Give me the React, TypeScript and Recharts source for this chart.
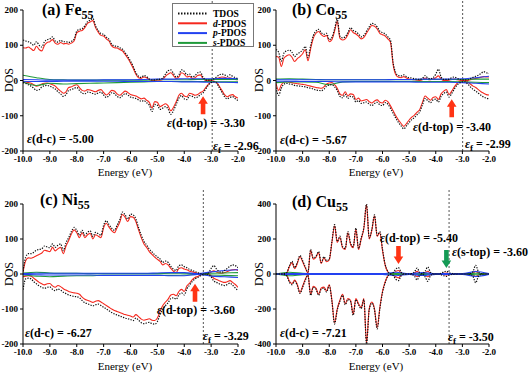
import React from 'react';
import { LineChart, Line, XAxis, YAxis, ReferenceLine, ReferenceDot } from 'recharts';

// energy grid (eV)
const energy = [
  -10.0, -9.9, -9.8, -9.7, -9.6, -9.5, -9.4, -9.3, -9.2, -9.1,
  -9.0, -8.9, -8.8, -8.7, -8.6, -8.5, -8.4, -8.3, -8.2, -8.1,
  -8.0, -7.9, -7.8, -7.7, -7.6, -7.5, -7.4, -7.3, -7.2, -7.1,
  -7.0, -6.9, -6.8, -6.7, -6.6, -6.5, -6.4, -6.3, -6.2, -6.1,
  -6.0, -5.9, -5.8, -5.7, -5.6, -5.5, -5.4, -5.3, -5.2, -5.1,
  -5.0, -4.9, -4.8, -4.7, -4.6, -4.5, -4.4, -4.3, -4.2, -4.1,
  -4.0, -3.9, -3.8, -3.7, -3.6, -3.5, -3.4, -3.3, -3.2, -3.1,
  -3.0, -2.9, -2.8, -2.7, -2.6, -2.5, -2.4, -2.3, -2.2, -2.1,
  -2.0,
];
const energyCoarse = [-10, -9.5, -9, -8.5, -8, -7.5, -7, -6.5, -6, -5.5, -5, -4.5, -4, -3.5, -3, -2.5, -2];

const xTicks = [-10, -9, -8, -7, -6, -5, -4, -3, -2];
const yTicks200 = [-200, -100, 0, 100, 200];
const yTicks400 = [-400, -200, 0, 200, 400];

const panelLetters = ['(a)', '(b)', '(c)', '(d)'];
const panelElements = ['Fe', 'Co', 'Ni', 'Cu'];
const efValues = [-2.96, -2.99, -3.29, -3.5];
const dTopValues = [-3.3, -3.4, -3.6, -5.4];
const dCenterValues = [-5.0, -5.67, -6.27, -7.21];
const sTopCu = -3.6;
const arrowTips = [-45, -53, -28, 57];
const sTopArrowTip = 34;
const legendLabels = ['TDOS', 'd-PDOS', 'p-PDOS', 's-PDOS'];

// ---- Fe55 ----
const feTUp = [
  115, 112, 110, 106, 100, 110, 100, 95, 110, 116,
  118, 124, 112, 109, 114, 110, 110, 108, 111, 117,
  140, 145, 147, 155, 167, 171, 176, 155, 142, 133,
  131, 123, 117, 103, 98, 97, 93, 89, 79, 68,
  55, 40, 22, 12, 9, 14, 11, 4, 2, 2,
  3, 4, 7, 18, 28, 30, 20, 10, 16, 30,
  26, 16, 18, 10, 14, 22, 24, 9, 2, 1,
  1, 5, 10, 16, 18, 16, 12, 16, 12, 8,
  6,
];
const feDUp = [
  93, 92, 95, 90, 85, 97, 88, 84, 100, 108,
  110, 116, 106, 103, 108, 104, 105, 103, 106, 112,
  135, 140, 142, 150, 162, 166, 170, 150, 137, 128,
  126, 118, 112, 98, 93, 92, 88, 84, 74, 63,
  50, 35, 18, 8, 6, 10, 8, 2, 0, 0,
  1, 1, 3, 12, 18, 22, 14, 6, 10, 22,
  18, 10, 12, 6, 8, 14, 16, 5, 0, 0,
  0, 2, 5, 8, 10, 9, 6, 8, 5, 3,
  2,
];
const feDDn = [
  -2, -4, -6, -8, -12, -16, -14, -10, -8, -7,
  -9, -12, -16, -24, -30, -36, -32, -20, -18, -14,
  -12, -20, -28, -30, -26, -27, -30, -32, -28, -26,
  -34, -41, -36, -28, -30, -38, -42, -36, -30, -34,
  -40, -42, -44, -48, -52, -50, -56, -62, -78, -60,
  -62, -74, -70, -66, -72, -86, -76, -60, -42, -36,
  -44, -46, -36, -38, -42, -40, -34, -30, -20, -10,
  -4, -2, -4, -16, -28, -40, -46, -42, -40, -46,
  -50,
];
const feTDn = [
  -6, -8, -12, -16, -22, -28, -26, -18, -15, -14,
  -16, -20, -24, -32, -38, -45, -40, -28, -26, -22,
  -20, -28, -36, -38, -33, -34, -37, -39, -35, -33,
  -41, -48, -43, -35, -37, -45, -49, -43, -37, -41,
  -47, -49, -51, -55, -59, -57, -63, -70, -88, -68,
  -70, -82, -78, -74, -81, -96, -85, -68, -50, -43,
  -52, -54, -43, -45, -49, -47, -40, -35, -24, -13,
  -6, -4, -7, -20, -33, -46, -52, -48, -46, -52,
  -57,
];
const feSUp = [15, 8, 3, 2, 1, 1, 1, 1, 1, 1, 2, 2, 2, 3, 3, 3, 3];
const feSDn = [-4, -14, -8, -10, -9, -8, -7, -6, -5, -4, -3, -3, -3, -3, -3, -4, -4];
const fePUp = [3, 2, 1, 1, 1, 1, 2, 2, 2, 3, 4, 4, 5, 5, 5, 6, 5];
const fePDn = [-2, -3, -3, -2, -2, -2, -2, -2, -3, -3, -3, -3, -4, -4, -5, -5, -6];

// ---- Co55 ----
const coTUp = [
  88, 80, 55, 78, 84, 86, 80, 68, 75, 80,
  86, 97, 65, 98, 127, 140, 145, 136, 131, 134,
  116, 122, 146, 174, 126, 121, 124, 136, 150, 142,
  138, 132, 124, 128, 140, 152, 162, 160, 152, 140,
  136, 132, 124, 114, 50, 22, 14, 13, 16, 11,
  8, 7, 5, 4, 3, 6, 14, 7, 5, 8,
  18, 32, 10, 3, 3, 4, 8, 10, 6, 3,
  2, 2, 2, 5, 9, 12, 15, 20, 25, 22,
  20,
];
const coDUp = [
  68, 66, 40, 64, 70, 73, 66, 54, 62, 68,
  76, 88, 56, 90, 120, 134, 139, 130, 125, 128,
  110, 116, 140, 168, 120, 115, 118, 130, 144, 136,
  132, 126, 118, 122, 134, 146, 156, 154, 146, 134,
  130, 126, 118, 108, 45, 16, 9, 8, 11, 7,
  4, 3, 2, 1, 0, 2, 7, 3, 2, 4,
  8, 13, 4, 0, 0, 1, 3, 4, 2, 1,
  0, 0, 0, 2, 4, 6, 7, 9, 11, 10,
  10,
];
const coDDn = [
  -8, -28, -12, -4, -3, -5, -6, -8, -9, -10,
  -11, -12, -14, -16, -18, -20, -21, -22, -18, -10,
  -7, -6, -12, -22, -38, -42, -32, -44, -38, -40,
  -54, -50, -58, -56, -54, -60, -64, -58, -55, -62,
  -64, -56, -60, -72, -86, -100, -112, -122, -130, -122,
  -112, -104, -98, -90, -82, -62, -44, -50, -56, -48,
  -46, -54, -38, -30, -26, -40, -30, -18, -8, -3,
  -1, 0, -4, -10, -16, -20, -26, -32, -36, -40,
  -41,
];
const coTDn = [
  -20, -42, -22, -10, -8, -10, -11, -14, -15, -16,
  -17, -18, -20, -22, -24, -27, -28, -29, -25, -16,
  -13, -12, -18, -28, -45, -49, -39, -51, -45, -47,
  -61, -57, -65, -63, -61, -67, -71, -65, -62, -69,
  -71, -63, -67, -79, -93, -107, -119, -129, -137, -129,
  -119, -111, -105, -97, -89, -69, -51, -57, -63, -55,
  -53, -61, -45, -37, -33, -47, -37, -24, -13, -7,
  -4, -3, -10, -18, -25, -30, -36, -42, -47, -50,
  -52,
];
const coSUp = [4, 5, 4, 3, 2, 2, 2, 2, 2, 2, 2, 3, 3, 3, 3, 4, 4];
const coSDn = [-6, -4, -4, -5, -12, -4, -3, -3, -3, -3, -3, -3, -3, -3, -4, -5, -6];
const coPUp = [2, 2, 2, 2, 2, 2, 2, 2, 2, 3, 3, 4, 4, 4, 5, 8, 12];
const coPDn = [-2, -2, -3, -3, -3, -4, -4, -4, -4, -4, -4, -5, -5, -5, -6, -8, -10];

// ---- Ni55 ----
const niTUp = [
  8, 48, 58, 58, 62, 68, 70, 72, 80, 77,
  75, 86, 76, 82, 86, 67, 89, 104, 121, 133,
  125, 111, 125, 111, 119, 123, 107, 119, 115, 111,
  139, 152, 141, 131, 125, 139, 155, 177, 169, 157,
  171, 169, 157, 133, 111, 93, 83, 71, 63, 55,
  49, 43, 33, 37, 33, 22, 14, 10, 24, 26,
  21, 18, 13, 10, 7, 4, 1, 0, 0, 3,
  16, 24, 14, 7, 5, 10, 16, 22, 26, 24,
  18,
];
const niDUp = [
  5, 38, 46, 45, 48, 52, 56, 60, 68, 66,
  64, 76, 66, 72, 76, 58, 80, 96, 114, 126,
  118, 104, 118, 104, 112, 116, 100, 112, 108, 104,
  132, 145, 134, 124, 118, 132, 148, 170, 162, 150,
  164, 162, 150, 126, 104, 86, 76, 64, 56, 48,
  42, 36, 26, 30, 26, 16, 8, 4, 16, 18,
  14, 12, 8, 6, 4, 2, 0, 0, 0, 1,
  6, 9, 6, 3, 2, 4, 7, 10, 12, 13,
  10,
];
const niDDn = [
  -8, -6, -5, -6, -12, -18, -24, -28, -31, -28,
  -27, -34, -38, -33, -36, -42, -46, -50, -52, -54,
  -55, -58, -66, -72, -75, -78, -81, -78, -76, -80,
  -85, -90, -95, -100, -104, -107, -110, -113, -116, -118,
  -120, -123, -116, -122, -129, -132, -130, -128, -132, -133,
  -126, -106, -90, -80, -72, -60, -58, -62, -50, -44,
  -50, -34, -26, -16, -10, -7, -3, 0, 0, 0,
  -4, -12, -16, -19, -22, -24, -22, -19, -24, -30,
  -38,
];
const niTDn = [
  -45, -14, -12, -14, -22, -28, -34, -38, -41, -38,
  -37, -44, -48, -43, -46, -52, -56, -60, -62, -64,
  -65, -68, -76, -82, -85, -88, -91, -88, -86, -90,
  -95, -100, -105, -110, -114, -117, -120, -123, -126, -128,
  -130, -133, -126, -132, -139, -142, -140, -138, -142, -143,
  -136, -116, -100, -90, -82, -70, -68, -72, -60, -54,
  -60, -42, -32, -21, -14, -10, -5, -1, 0, -1,
  -8, -20, -24, -28, -31, -33, -30, -26, -32, -40,
  -48,
];
const niSUp = [3, 5, 3, 2, 2, 1, 1, 1, 1, 1, 1, 2, 2, 1, 2, 3, 4];
const niSDn = [-3, -6, -8, -6, -5, -5, -4, -4, -4, -4, -4, -4, -3, -1, -3, -4, -5];
const niPUp = [1, 2, 2, 2, 2, 2, 2, 2, 2, 2, 3, 4, 4, 1, 6, 10, 12];
const niPDn = [-1, -2, -3, -3, -3, -3, -4, -4, -4, -4, -4, -5, -5, -1, -6, -8, -10];

// ---- Cu55 ----
const cuTUp = [
  0, 0, 0, 2, 8, 46, 72, 36, 66, 106,
  76, 40, 10, 141, 91, 101, 128, 66, 99, 76,
  86, 186, 282, 186, 216, 156, 146, 242, 176, 156,
  262, 146, 206, 266, 400, 206, 256, 338, 221, 242,
  141, 55, 15, 2, 8, 28, 36, 10, 1, 0,
  0, 2, 12, 34, 8, 2, 16, 40, 10, 1,
  0, 0, 4, 12, 16, 8, 4, 1, 0, 0,
  0, 0, 0, 2, 14, 50, 14, 2, 0, 0,
  0,
];
const cuDUp = [
  0, 0, 0, 0, 4, 40, 65, 30, 60, 100,
  70, 35, 6, 135, 85, 95, 122, 60, 93, 70,
  80, 180, 274, 180, 210, 150, 140, 236, 170, 150,
  255, 140, 200, 260, 395, 200, 250, 331, 215, 236,
  135, 50, 12, 0, 4, 15, 20, 5, 0, 0,
  0, 0, 5, 15, 3, 0, 6, 16, 4, 0,
  0, 0, 1, 4, 6, 3, 1, 0, 0, 0,
  0, 0, 0, 0, 5, 15, 5, 0, 0, 0,
  0,
];
const cuDDn = [
  0, 0, 0, 0, -6, -40, -55, -35, -60, -105,
  -70, -30, -4, -116, -70, -80, -116, -80, -75, -97,
  -60, -150, -278, -200, -150, -116, -170, -140, -150, -230,
  -140, -170, -192, -140, -392, -200, -160, -200, -307, -192,
  -100, -45, -10, 0, -4, -16, -22, -6, 0, 0,
  0, 0, -5, -15, -3, 0, -6, -16, -4, 0,
  0, 0, -1, -3, -5, -2, -1, 0, 0, 0,
  0, 0, 0, 0, -5, -15, -5, 0, 0, 0,
  0,
];
const cuTDn = [
  0, 0, 0, -2, -10, -46, -61, -41, -66, -111,
  -76, -36, -8, -122, -76, -86, -122, -86, -81, -103,
  -66, -156, -286, -206, -156, -122, -176, -146, -156, -236,
  -146, -176, -198, -146, -400, -206, -166, -206, -314, -198,
  -106, -50, -13, -2, -8, -30, -38, -10, -1, 0,
  0, -2, -12, -34, -8, -2, -16, -42, -10, -1,
  0, 0, -4, -10, -14, -6, -3, -1, 0, 0,
  0, 0, 0, -2, -14, -50, -14, -2, 0, 0,
  0,
];
const cuSUp = [0, 10, 4, 1, 1, 1, 1, 1, 1, 2, 0, 2, 0, 3, 0, 4, 0];
const cuSDn = [0, -10, -4, -1, -1, -1, -1, -1, -1, -2, 0, -2, 0, -3, 0, -4, 0];
const cuPUp = [0, 3, 3, 3, 2, 2, 2, 2, 2, 10, 2, 8, 2, 3, 2, 14, 2];
const cuPDn = [0, -3, -3, -3, -2, -2, -2, -2, -2, -10, -2, -8, -2, -3, -2, -14, -2];

const RED = '#f5281e';
const BLUE = '#2341f0';
const GREEN = '#1f9a3a';
const FONT = 'Liberation Serif';

const pts = (xs: number[], ys: number[]) => xs.map((x, i) => ({ x, y: ys[i] }));

const tickStyle = { fontFamily: FONT, fontSize: 9, fontWeight: 700, fill: '#000' };

type Arrow = { x: number; y: number; dir: 'up' | 'down'; color: string };

const arrowShape = (dir: 'up' | 'down', color: string) => (p: any) => {
  const { cx, cy } = p;
  const s = dir === 'up' ? 1 : -1;
  const d = `M${cx},${cy} L${cx + 4.8},${cy + s * 7.5} L${cx + 2.3},${cy + s * 7.5} L${cx + 2.3},${cy + s * 18} L${cx - 2.3},${cy + s * 18} L${cx - 2.3},${cy + s * 7.5} L${cx - 4.8},${cy + s * 7.5} Z`;
  return <path d={d} fill={color} stroke="none" />;
};

function Panel(props: {
  left: number; top: number; width: number; height: number;
  margin: { top: number; right: number; bottom: number; left: number };
  yWidth: number; xHeight: number; domain: [number, number]; ticks: number[];
  tUp: number[]; tDn: number[]; dUp: number[]; dDn: number[];
  sUp: number[]; sDn: number[]; pUp: number[]; pDn: number[];
  ef: number; efTop: number; arrows: Arrow[];
}) {
  const p = props;
  const solid = (ys: number[], xs: number[], color: string, key: string) => (
    <Line key={key} data={pts(xs, ys)} dataKey="y" type="monotone" stroke={color} strokeWidth={1.1}
      dot={false} activeDot={false} isAnimationActive={false} />
  );
  return (
    <div style={{ position: 'absolute', left: p.left, top: p.top }}>
      <LineChart width={p.width} height={p.height} margin={p.margin}>
        <XAxis type="number" dataKey="x" domain={[-10, -2]} ticks={xTicks} allowDataOverflow interval={0}
          tickFormatter={(v: number) => v.toFixed(1)} tick={tickStyle} tickSize={3} tickMargin={2}
          height={p.xHeight} stroke="#000" />
        <YAxis type="number" domain={p.domain} ticks={p.ticks} allowDataOverflow interval={0}
          width={p.yWidth} tick={tickStyle} tickSize={3} tickMargin={2} stroke="#000" />
        <ReferenceLine segment={[{ x: p.ef, y: p.domain[0] }, { x: p.ef, y: p.efTop }]} ifOverflow="visible"
          stroke="#555" strokeDasharray="2 2" strokeWidth={1} />
        {solid(p.dUp, energy, RED, 'du')}
        {solid(p.dDn, energy, RED, 'dd')}
        {solid(p.sUp, energyCoarse, GREEN, 'su')}
        {solid(p.sDn, energyCoarse, GREEN, 'sd')}
        {solid(p.pUp, energyCoarse, BLUE, 'pu')}
        {solid(p.pDn, energyCoarse, BLUE, 'pd')}
        <Line data={pts(energy, p.tUp)} dataKey="y" type="monotone" stroke="#111" strokeWidth={1.2}
          strokeDasharray="1.3 1.3" dot={false} activeDot={false} isAnimationActive={false} />
        <Line data={pts(energy, p.tDn)} dataKey="y" type="monotone" stroke="#111" strokeWidth={1.2}
          strokeDasharray="1.3 1.3" dot={false} activeDot={false} isAnimationActive={false} />
        {p.arrows.map((a, i) => (
          <ReferenceDot key={i} x={a.x} y={a.y} ifOverflow="visible" shape={arrowShape(a.dir, a.color)} />
        ))}
      </LineChart>
    </div>
  );
}

const Eps = ({ x, y, label, value }: { x: number; y: number; label: string; value: number }) => (
  <text x={x} y={y} fontSize={12} fontWeight={700}>
    <tspan fontStyle="italic">ε</tspan>
    <tspan>({label}) = {value.toFixed(2)}</tspan>
  </text>
);

const Ef = ({ x, y, value }: { x: number; y: number; value: number }) => (
  <text x={x} y={y} fontSize={12} fontWeight={700}>
    <tspan fontStyle="italic">ε</tspan>
    <tspan fontSize={9} dy={3}>f</tspan>
    <tspan dy={-3}> = {value.toFixed(2)}</tspan>
  </text>
);

const Title = ({ x, y, i }: { x: number; y: number; i: number }) => (
  <text x={x} y={y} fontSize={16} fontWeight={700}>
    {panelLetters[i]} {panelElements[i]}
    <tspan fontSize={12} dy={4}>55</tspan>
  </text>
);

export default function App() {
  const legendColors = ['#111', RED, BLUE, GREEN];
  return (
    <div style={{ position: 'absolute', left: 0, top: 0, width: 530, height: 375, background: '#fff', overflow: 'hidden' }}>
      <Panel left={0} top={0} width={265} height={185} margin={{ top: 10, right: 27, bottom: 0, left: 0 }}
        yWidth={23} xHeight={34} domain={[-200, 200]} ticks={yTicks200}
        tUp={feTUp} tDn={feTDn} dUp={feDUp} dDn={feDDn} sUp={feSUp} sDn={feSDn} pUp={fePUp} pDn={fePDn}
        ef={efValues[0]} efTop={260} arrows={[{ x: dTopValues[0], y: arrowTips[0], dir: 'up', color: '#ff3414' }]} />
      <Panel left={245} top={0} width={285} height={185} margin={{ top: 10, right: 41, bottom: 0, left: 0 }}
        yWidth={31} xHeight={34} domain={[-200, 200]} ticks={yTicks200}
        tUp={coTUp} tDn={coTDn} dUp={coDUp} dDn={coDDn} sUp={coSUp} sDn={coSDn} pUp={coPUp} pDn={coPDn}
        ef={efValues[1]} efTop={260} arrows={[{ x: dTopValues[1], y: arrowTips[1], dir: 'up', color: '#ff3414' }]} />
      <Panel left={0} top={185} width={265} height={190} margin={{ top: 19, right: 27, bottom: 0, left: 0 }}
        yWidth={23} xHeight={31} domain={[-200, 200]} ticks={yTicks200}
        tUp={niTUp} tDn={niTDn} dUp={niDUp} dDn={niDDn} sUp={niSUp} sDn={niSDn} pUp={niPUp} pDn={niPDn}
        ef={efValues[2]} efTop={240} arrows={[{ x: dTopValues[2], y: arrowTips[2], dir: 'up', color: '#ff3414' }]} />
      <Panel left={245} top={185} width={285} height={190} margin={{ top: 19, right: 41, bottom: 0, left: 0 }}
        yWidth={31} xHeight={31} domain={[-400, 400]} ticks={yTicks400}
        tUp={cuTUp} tDn={cuTDn} dUp={cuDUp} dDn={cuDDn} sUp={cuSUp} sDn={cuSDn} pUp={cuPUp} pDn={cuPDn}
        ef={efValues[3]} efTop={480}
        arrows={[
          { x: dTopValues[3], y: arrowTips[3], dir: 'down', color: '#ff3414' },
          { x: sTopCu, y: sTopArrowTip, dir: 'down', color: '#149a55' },
        ]} />

      <svg width={530} height={375} style={{ position: 'absolute', left: 0, top: 0, pointerEvents: 'none' }}
        fontFamily={FONT} fill="#000">
        <Title x={42} y={15} i={0} />
        <Title x={292} y={15} i={1} />
        <Title x={40} y={205} i={2} />
        <Title x={292} y={207} i={3} />

        <Eps x={167} y={127} label="d-top" value={dTopValues[0]} />
        <Eps x={27} y={143} label="d-c" value={dCenterValues[0]} />
        <Ef x={213} y={150} value={efValues[0]} />

        <Eps x={413} y={131} label="d-top" value={dTopValues[1]} />
        <Eps x={280} y={144} label="d-c" value={dCenterValues[1]} />
        <Ef x={465} y={148} value={efValues[1]} />

        <Eps x={157} y={314} label="d-top" value={dTopValues[2]} />
        <Eps x={25} y={337} label="d-c" value={dCenterValues[2]} />
        <Ef x={203} y={340} value={efValues[2]} />

        <Eps x={380} y={242} label="d-top" value={dTopValues[3]} />
        <Eps x={452} y={256} label="s-top" value={sTopCu} />
        <Eps x={280} y={337} label="d-c" value={dCenterValues[3]} />
        <Ef x={448} y={341} value={efValues[3]} />

        {[[125, 176], [376, 176], [125, 370], [376, 370]].map(([x, y], i) => (
          <text key={'e' + i} x={x} y={y} fontSize={11} textAnchor="middle">Energy (eV)</text>
        ))}
        {[[13, 80], [263, 80], [13, 274], [263, 274]].map(([x, y], i) => (
          <text key={'d' + i} x={x} y={y} fontSize={12} textAnchor="middle" transform={`rotate(-90 ${x} ${y})`}>DOS</text>
        ))}

        <rect x={172.5} y={3.5} width={81} height={43} fill="#fff" stroke="#777" strokeWidth={1} />
        {legendLabels.map((lab, i) => {
          const y = 13.5 + i * 9.8;
          return (
            <g key={lab}>
              <line x1={178} x2={207} y1={y} y2={y} stroke={legendColors[i]} strokeWidth={i === 0 ? 1.8 : 2}
                strokeDasharray={i === 0 ? '1.5 1.5' : undefined} />
              <text x={213} y={y + 3.3} fontSize={9.5} fontWeight={700}>
                {i === 0 ? lab : (<><tspan fontStyle="italic">{lab[0]}</tspan>{lab.slice(1)}</>)}
              </text>
            </g>
          );
        })}
      </svg>
    </div>
  );
}
